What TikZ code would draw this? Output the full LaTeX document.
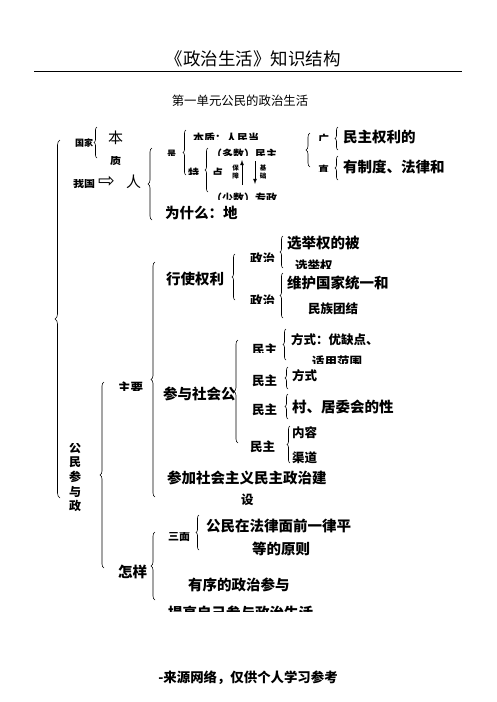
\documentclass[tikz,border=0pt]{standalone}
\usepackage{fontspec}
\setmainfont{Noto Sans CJK SC}
\newfontfamily\arrowfont{DejaVu Sans}
\usetikzlibrary{decorations.pathreplacing}
\begin{document}
\begin{tikzpicture}[x=1pt, y=-1pt,
  txt/.style={anchor=west, inner sep=0pt, font=\fontsize{14.5}{16}\selectfont\bfseries},
  mid/.style={anchor=west, inner sep=0pt, font=\fontsize{12.5}{14}\selectfont\bfseries},
  sml/.style={anchor=west, inner sep=0pt, font=\fontsize{11}{12}\selectfont\bfseries},
  tny/.style={anchor=west, inner sep=0pt, font=\fontsize{9}{10}\selectfont\bfseries},
  brc/.style={decorate, decoration={brace, amplitude=4pt}, line width=0.6pt}]
\useasboundingbox (0,0) rectangle (496,702);

\node (title) at (253,59) {\fontsize{17.5}{20}\selectfont 《政治生活》知识结构};
\draw [line width=0.8pt] (34,71) -- (462,71);
\node (unit) at (240,101) {\fontsize{12.4}{14}\selectfont 第一单元公民的政治生活};

\draw [brc, decoration={amplitude=5pt}] (60,498) -- (60,140);
\begin{scope}
  \clip (60,443) rectangle (95,520);
  \node [align=center, inner sep=0pt, font=\fontsize{12}{14.6}\selectfont\bfseries] (role) at (75,477) {公\\民\\参\\与\\政};
\end{scope}

% 国家 / 我国
\node [tny] (state) at (75,143) {国家};
\draw [brc, decoration={amplitude=3pt}] (97,158) -- (97,127);
\node [anchor=west, inner sep=0pt, font=\fontsize{15}{16}\selectfont] (ben) at (108,138) {本};
\begin{scope}
  \clip (100,156) rectangle (130,170);
  \node [sml] (zhi) at (110,160) {质};
\end{scope}
\begin{scope}
  \clip (65,179) rectangle (97,195);
  \node [sml] (ours) at (73,183) {我国};
\end{scope}
\node [anchor=west, inner sep=0pt, font=\arrowfont\fontsize{20}{20}\selectfont] (to) at (98,182) {⇨};
\node [anchor=west, inner sep=0pt, font=\fontsize{15}{16}\selectfont] (ren) at (126,182) {人};
\draw [brc] (152,220) -- (152,148);
\begin{scope}
  \clip (160,140) rectangle (182,155);
  \node [tny] (shi) at (167,154) {是};
\end{scope}
\draw [brc, decoration={amplitude=3pt}] (186,175) -- (186,130);
\begin{scope}
  \clip (190,125) rectangle (300,139);
  \node [sml] (essence) at (193,138) {本质：人民当};
\end{scope}
\begin{scope}
  \clip (185,160) rectangle (225,174);
  \node [sml] (feat) at (188,173) {特\hspace{13pt}点};
\end{scope}
\draw [brc, decoration={amplitude=3pt}] (208,192) -- (208,148);
\begin{scope}
  \clip (210,140) rectangle (300,155);
  \node [sml] (many) at (211,154) {（多数）民主};
\end{scope}
\begin{scope}
  \clip (210,185) rectangle (300,199);
  \node [sml] (few) at (211,198) {（少数）专政};
\end{scope}
\coordinate (upa) at (242,185);
\coordinate (upb) at (242,160);
\coordinate (dna) at (255,161);
\coordinate (dnb) at (255,184);
\draw [-latex, line width=0.8pt] (upa) -- (upb);
\draw [-latex, line width=0.8pt] (dna) -- (dnb);
\node [align=center, inner sep=0pt, font=\fontsize{6.5}{7.5}\selectfont\bfseries] (guard) at (235.5,172) {保\\障};
\node [align=center, inner sep=0pt, font=\fontsize{6.5}{7.5}\selectfont\bfseries] (base) at (263,172) {基\\础};
\draw [brc] (310,167) -- (310,133);
\begin{scope}
  \clip (315,128) rectangle (335,140);
  \node [sml] (wide) at (318,139) {广};
\end{scope}
\begin{scope}
  \clip (315,158) rectangle (335,171);
  \node [sml] (real) at (318,170) {真};
\end{scope}
\draw [brc, decoration={amplitude=3pt}] (338,150) -- (338,127);
\node [txt] (rights) at (343,137) {民主权利的};
\draw [brc, decoration={amplitude=3pt}] (338,180) -- (338,156);
\node [txt] (system) at (343,167) {有制度、法律和};
\node [txt] (why) at (165,213) {为什么：地};

% 主要
\draw [brc] (104,568) -- (104,382);
\begin{scope}
  \clip (112,378) rectangle (145,390);
  \node [mid] (main) at (118,388) {主要};
\end{scope}
\node [txt] (how) at (118,572) {怎样};
\draw [brc] (155,497) -- (155,262);
\node [txt] (exercise) at (166,279) {行使权利};
\draw [brc, decoration={amplitude=3pt}] (235,300) -- (235,254);
\begin{scope}
  \clip (245,250) rectangle (280,261);
  \node [mid] (pol1) at (250,259) {政治};
\end{scope}
\begin{scope}
  \clip (245,293) rectangle (280,303);
  \node [mid] (pol2) at (250,301) {政治};
\end{scope}
\draw [brc, decoration={amplitude=3pt}] (283,268) -- (283,236);
\node [txt] (vote) at (287,243) {选举权的被};
\begin{scope}
  \clip (290,258) rectangle (360,268);
  \node [mid] (vote2) at (295,266) {选举权};
\end{scope}
\draw [brc, decoration={amplitude=3pt}] (283,318) -- (283,273);
\node [txt] (unity) at (287,283) {维护国家统一和};
\node [mid] (nation) at (308,309) {民族团结};

\node [txt] (public) at (163,394) {参与社会公};
\draw [brc] (238,443) -- (238,340);
\begin{scope}
  \clip (248,340) rectangle (285,352);
  \node [mid] (dem1) at (252,350) {民主};
\end{scope}
\draw [brc, decoration={amplitude=3pt}] (286,360) -- (286,329);
\node [mid] (way1) at (291,340) {方式：优缺点、};
\begin{scope}
  \clip (305,354) rectangle (380,363);
  \node [mid] (scope1) at (312,362) {适用范围};
\end{scope}
\node [mid] (dem2) at (252,381) {民主};
\draw [brc, decoration={amplitude=3pt}] (288,389) -- (288,367);
\node [mid] (way2) at (292,376) {方式};
\node [mid] (dem3) at (252,410) {民主};
\draw [brc, decoration={amplitude=3pt}] (288,419) -- (288,394);
\node [txt] (village) at (292,407) {村、居委会的性};
\node [mid] (dem4) at (250,447) {民主};
\draw [brc, decoration={amplitude=3pt}] (290,463) -- (290,426);
\node [mid] (content) at (292,433) {内容};
\node [mid] (channel) at (292,458) {渠道};
\node [txt] (build) at (167,478) {参加社会主义民主政治建};
\node [mid] (build2) at (241,500) {设};

% 怎样
\draw [brc] (155,600) -- (155,532);
\begin{scope}
  \clip (165,532) rectangle (197,545);
  \node [sml] (three) at (168,537) {三面};
\end{scope}
\draw [brc, decoration={amplitude=3pt}] (199,550) -- (199,515);
\node [txt] (equal) at (206,526) {公民在法律面前一律平};
\node [txt] (equal2) at (252,549) {等的原则};
\node [txt] (order) at (188,585) {有序的政治参与};
\begin{scope}
  \clip (165,600) rectangle (340,611);
  \node [txt] (raise) at (168,613) {提高自己参与政治生活};
\end{scope}

\node [font=\fontsize{13.4}{15}\selectfont\bfseries] (source) at (248,678) {-来源网络，仅供个人学习参考};
\end{tikzpicture}
\end{document}
